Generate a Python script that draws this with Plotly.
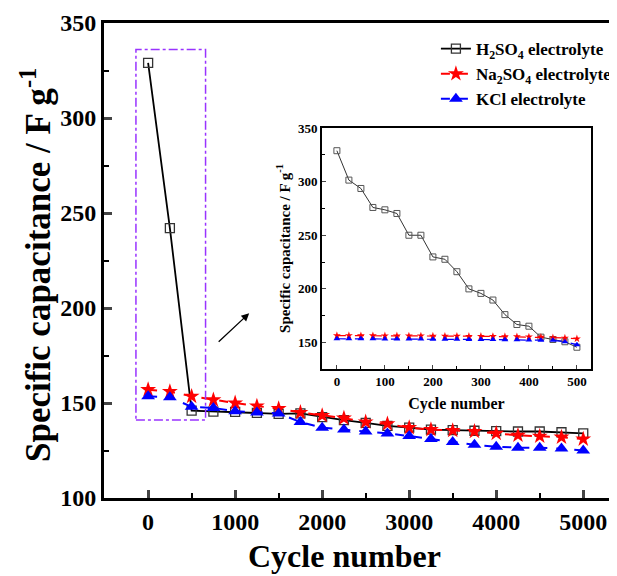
import plotly.graph_objects as go

# ---- data ----
cycles_main = list(range(0, 5001, 250))
h2so4_main = [329, 242, 146, 145.5, 145.3, 144.8, 144.3, 144.5, 142.6, 141, 139.5,
              138, 137, 136, 135.7, 135.4, 135.2, 135, 135, 134.6, 134]
na2so4_main = [157, 156, 153.5, 151.6, 150, 148.4, 147, 145, 143.4, 142, 140,
               139, 137, 136, 135.5, 135, 134, 133, 132.5, 132, 131]
kcl_main = [153.5, 153, 148, 147.4, 145.7, 145, 144.5, 140, 137, 136, 135,
            134, 132.6, 131, 129.5, 128, 127, 126.5, 126.5, 126, 125]

cycles_inset = list(range(0, 501, 25))
h2so4_inset = [328.8, 301.4, 293.6, 275.9, 273.7, 270.3, 250, 250, 229.8, 227.6, 216,
               200, 195.8, 189.6, 176, 166.8, 165.2, 155, 152.8, 150.7, 145.6]
na2so4_inset = [156.5, 156.5, 156.4, 156.4, 156.3, 156.3, 156.2, 156.2, 156.1, 156.0, 156.0,
                155.9, 155.8, 155.7, 155.6, 155.5, 155.3, 155.0, 154.5, 154.2, 153.5]
kcl_inset = [153.5, 153.5, 153.4, 153.4, 153.3, 153.3, 153.2, 153.2, 153.1, 153.0, 153.0,
             152.9, 152.8, 152.7, 152.6, 152.5, 152.4, 152.0, 152.0, 150.7, 148.0]

names = ["H<sub>2</sub>SO<sub>4</sub> electrolyte",
         "Na<sub>2</sub>SO<sub>4</sub> electrolyte",
         "KCl electrolyte"]

FONT = "Liberation Serif, Times New Roman, serif"

fig = go.Figure()

# main traces
fig.add_trace(go.Scatter(x=cycles_main, y=h2so4_main, name=names[0], mode="lines+markers",
                         line=dict(color="black", width=1.8),
                         marker=dict(symbol="square-open", size=9, color="#333",
                                     line=dict(width=1.3, color="#333"))))
fig.add_trace(go.Scatter(x=cycles_main, y=na2so4_main, name=names[1], mode="lines+markers",
                         line=dict(color="#ff0000", width=2, dash="dash"),
                         marker=dict(symbol="star", size=12, color="#ff0000")))
fig.add_trace(go.Scatter(x=cycles_main, y=kcl_main, name=names[2], mode="lines+markers",
                         line=dict(color="#0000ff", width=2, dash="dash"),
                         marker=dict(symbol="triangle-up", size=12, color="#0000ff")))

# inset traces
fig.add_trace(go.Scatter(x=cycles_inset, y=h2so4_inset, xaxis="x2", yaxis="y2", showlegend=False,
                         mode="lines+markers", line=dict(color="#333", width=1),
                         marker=dict(symbol="square-open", size=6, color="#555",
                                     line=dict(width=1, color="#555"))))
fig.add_trace(go.Scatter(x=cycles_inset, y=na2so4_inset, xaxis="x2", yaxis="y2", showlegend=False,
                         mode="lines+markers", line=dict(color="#ff0000", width=1.2, dash="dash"),
                         marker=dict(symbol="star", size=6, color="#ff0000")))
fig.add_trace(go.Scatter(x=cycles_inset, y=kcl_inset, xaxis="x2", yaxis="y2", showlegend=False,
                         mode="lines+markers", line=dict(color="#0000ff", width=1.2, dash="dash"),
                         marker=dict(symbol="triangle-up", size=6, color="#0000ff")))

axis_common = dict(showgrid=False, zeroline=False, showline=True, linecolor="black",
                   mirror=True, ticks="inside", automargin=False)

fig.update_layout(
    width=609, height=568,
    margin=dict(l=96, r=0, t=15, b=78),
    plot_bgcolor="white", paper_bgcolor="white",
    font=dict(family=FONT, color="black"),
    xaxis=dict(**axis_common, range=[-507, 5388], linewidth=3, tickwidth=2.5, ticklen=8,
               tickvals=[0, 1000, 2000, 3000, 4000, 5000],
               minor=dict(ticks="inside", tickvals=[500, 1500, 2500, 3500, 4500],
                          ticklen=5, tickwidth=2, tickcolor="black"),
               tickfont=dict(size=24, family=FONT, weight="bold")),
    yaxis=dict(**axis_common, range=[100, 350], linewidth=3, tickwidth=2.5, ticklen=8,
               tickvals=[100, 150, 200, 250, 300, 350],
               minor=dict(ticks="inside", tickvals=[125, 175, 225, 275, 325],
                          ticklen=5, tickwidth=2, tickcolor="black"),
               tickfont=dict(size=24, family=FONT, weight="bold")),
    xaxis2=dict(**axis_common, domain=[0.425, 0.949], anchor="y2", range=[-31, 529],
                linewidth=2, tickwidth=1.2, ticklen=4,
                tickvals=[0, 100, 200, 300, 400, 500],
                minor=dict(ticks="inside", tickvals=[50, 150, 250, 350, 450],
                           ticklen=3, tickwidth=1, tickcolor="black"),
                tickfont=dict(size=13, family=FONT, weight="bold"),
                title=dict(text="Cycle number", font=dict(size=16, family=FONT, weight="bold"),
                           standoff=9)),
    yaxis2=dict(**axis_common, domain=[0.272, 0.779], anchor="x2", range=[125.5, 350],
                linewidth=2, tickwidth=1.2, ticklen=4,
                tickvals=[150, 200, 250, 300, 350],
                minor=dict(ticks="inside", tickvals=[175, 225, 275, 325],
                           ticklen=3, tickwidth=1, tickcolor="black"),
                tickfont=dict(size=13, family=FONT, weight="bold"),
                title=dict(text="Specific capacitance / F g<sup>-1</sup>",
                           font=dict(size=15, family=FONT, weight="bold"), standoff=4)),
    legend=dict(x=0.647, y=0.983, xanchor="left", yanchor="top",
                bgcolor="rgba(255,255,255,0)", borderwidth=0,
                font=dict(size=17, family=FONT, weight="bold"),
                itemwidth=30, tracegroupgap=0),
    shapes=[dict(type="rect", xref="x", yref="y", x0=-140, x1=660, y0=141, y1=336,
                 line=dict(color="#9933ff", width=1.5, dash="dashdot"))],
    annotations=[
        dict(x=0.283, y=0.389, xref="paper", yref="paper", ax=-32, ay=30,
             showarrow=True, arrowhead=2, arrowsize=1.2, arrowwidth=1.3,
             arrowcolor="black", text=""),
        dict(x=0.468, y=-0.122, xref="paper", yref="paper", showarrow=False,
             text="Cycle number", xanchor="center", yanchor="middle",
             font=dict(size=32, family=FONT, weight="bold")),
        dict(x=-0.133, y=0.49, xref="paper", yref="paper", showarrow=False,
             text="Specific capacitance / F g<sup>-1</sup>", textangle=-90,
             xanchor="center", yanchor="middle",
             font=dict(size=35, family=FONT, weight="bold")),
    ],
)

fig.write_html("out.html")
